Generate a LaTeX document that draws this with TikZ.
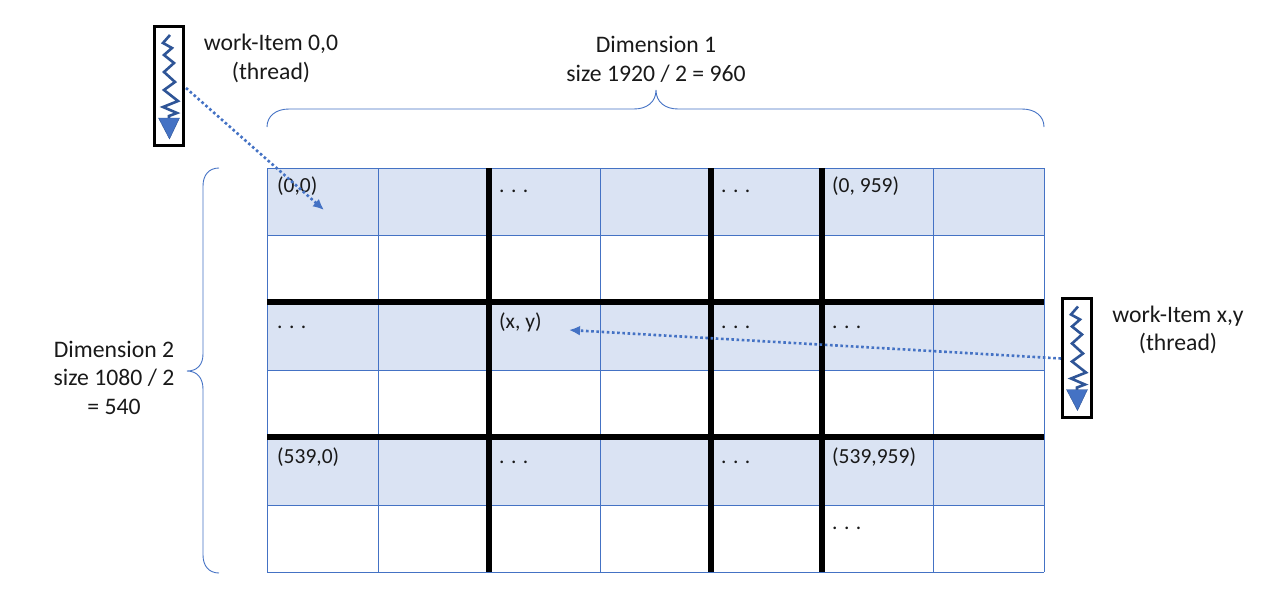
\documentclass[tikz,border=0pt]{standalone}
\usepackage{fontspec}
\setmainfont{Carlito}
\usetikzlibrary{arrows.meta}
\definecolor{ablue}{HTML}{4472C4}
\definecolor{zig}{HTML}{2F5597}
\definecolor{cellfill}{HTML}{DAE3F3}
\tikzset{
  lbl/.style={font=\fontsize{23.7}{28.5}\selectfont,align=center,inner sep=0pt,text=black!90},
  cell/.style={font=\fontsize{21.5}{24}\selectfont,anchor=base west,inner sep=0pt,text=black!90},
  thin grid/.style={draw=ablue,line width=0.8pt},
  thick grid/.style={draw=black,line width=6pt},
  bracket/.style={draw=ablue,line width=0.9pt},
  pointer/.style={draw=ablue,line width=2.6pt,line cap=butt,dash pattern=on 2.6pt off 2.6pt,-{Latex[length=11pt,width=10pt]}},
  threadbox/.style={draw=black,line width=3pt,fill=white,minimum width=29pt,minimum height=119pt,inner sep=0pt},
  pics/zigzag/.style={code={
    \draw[zig,line width=2.6pt,line join=miter] (1,-51) -- (-6,-43) -- (3,-38) -- (-5,-31) -- (5,-23) -- (-5,-14) -- (6,-4) -- (-5,4) -- (9,15) -- (-6,21) -- (8,27) -- (0,30) -- (0,33);
    \fill[ablue,draw=zig,line width=0.4pt] (-10.5,32) -- (10.5,32) -- (0.5,53) -- cycle;
  }}
}
\begin{document}
\begin{tikzpicture}[x=1pt,y=-1pt]
\useasboundingbox (0,0) rectangle (1280,605);
% shaded rows
\fill[cellfill] (267,168) rectangle (1044,235);
\fill[cellfill] (267,302) rectangle (1044,370);
\fill[cellfill] (267,437) rectangle (1044,505);
% thin grid
\foreach \y in {168,235,370,505,572} \draw[thin grid] (267,\y) -- (1044,\y);
\foreach \x in {267,378,600,933,1044} \draw[thin grid] (\x,168) -- (\x,572);
% thick grid
\foreach \x in {489,711,822} \draw[thick grid] (\x,168) -- (\x,572);
\foreach \y in {302,437} \draw[thick grid] (267,\y) -- (1044,\y);
% braces
\draw[bracket] (267,127) .. controls (267,116) and (276,109) .. (289,109) -- (634,109) .. controls (647,109) and (656,102) .. (656,90) .. controls (656,102) and (665,109) .. (678,109) -- (1022,109) .. controls (1035,109) and (1044,116) .. (1044,127);
\draw[bracket] (219,168) .. controls (209,168) and (203,175) .. (203,186) -- (203,354) .. controls (203,365) and (197,371) .. (187,371) .. controls (197,371) and (203,378) .. (203,389) -- (203,555) .. controls (203,566) and (209,573) .. (219,573);
% thread boxes
\node[threadbox] (t0) at (169,86) {};
\pic at (169,86) {zigzag};
\node[threadbox] (t1) at (1077,357.5) {};
\pic at (1077,357.5) {zigzag};
% labels
\node[lbl] (l0) at (271,58.5) {work-Item 0,0\\(thread)};
\node[lbl] (l1) at (1178,330) {work-Item x,y\\(thread)};
\node[lbl] (d1) at (656,59.5) {Dimension 1\\size 1920 / 2 = 960};
\node[lbl] (d2) at (114,377.5) {Dimension 2\\size 1080 / 2\\= 540};
% cell texts
\node[cell] (c1) at (277,192) {(0,0)};
\node[cell] (c2) at (499,192) {. . .};
\node[cell] (c3) at (721,192) {. . .};
\node[cell] (c4) at (832,192) {(0, 959)};
\node[cell] (c5) at (277,328) {. . .};
\node[cell] (c6) at (499,328) {(x, y)};
\node[cell] (c7) at (721,328) {. . .};
\node[cell] (c8) at (832,328) {. . .};
\node[cell] (c9) at (277,463) {(539,0)};
\node[cell] (c10) at (499,463) {. . .};
\node[cell] (c11) at (721,463) {. . .};
\node[cell] (c12) at (832,463) {(539,959)};
\node[cell] (c13) at (832,529) {. . .};
% connectors
\coordinate (p0) at (324,210);
\coordinate (p1) at (569,330);
\draw[pointer] (186,88) -- (p0);
\draw[pointer] (t1.west) ++(0,1) -- (p1);
\end{tikzpicture}
\end{document}
